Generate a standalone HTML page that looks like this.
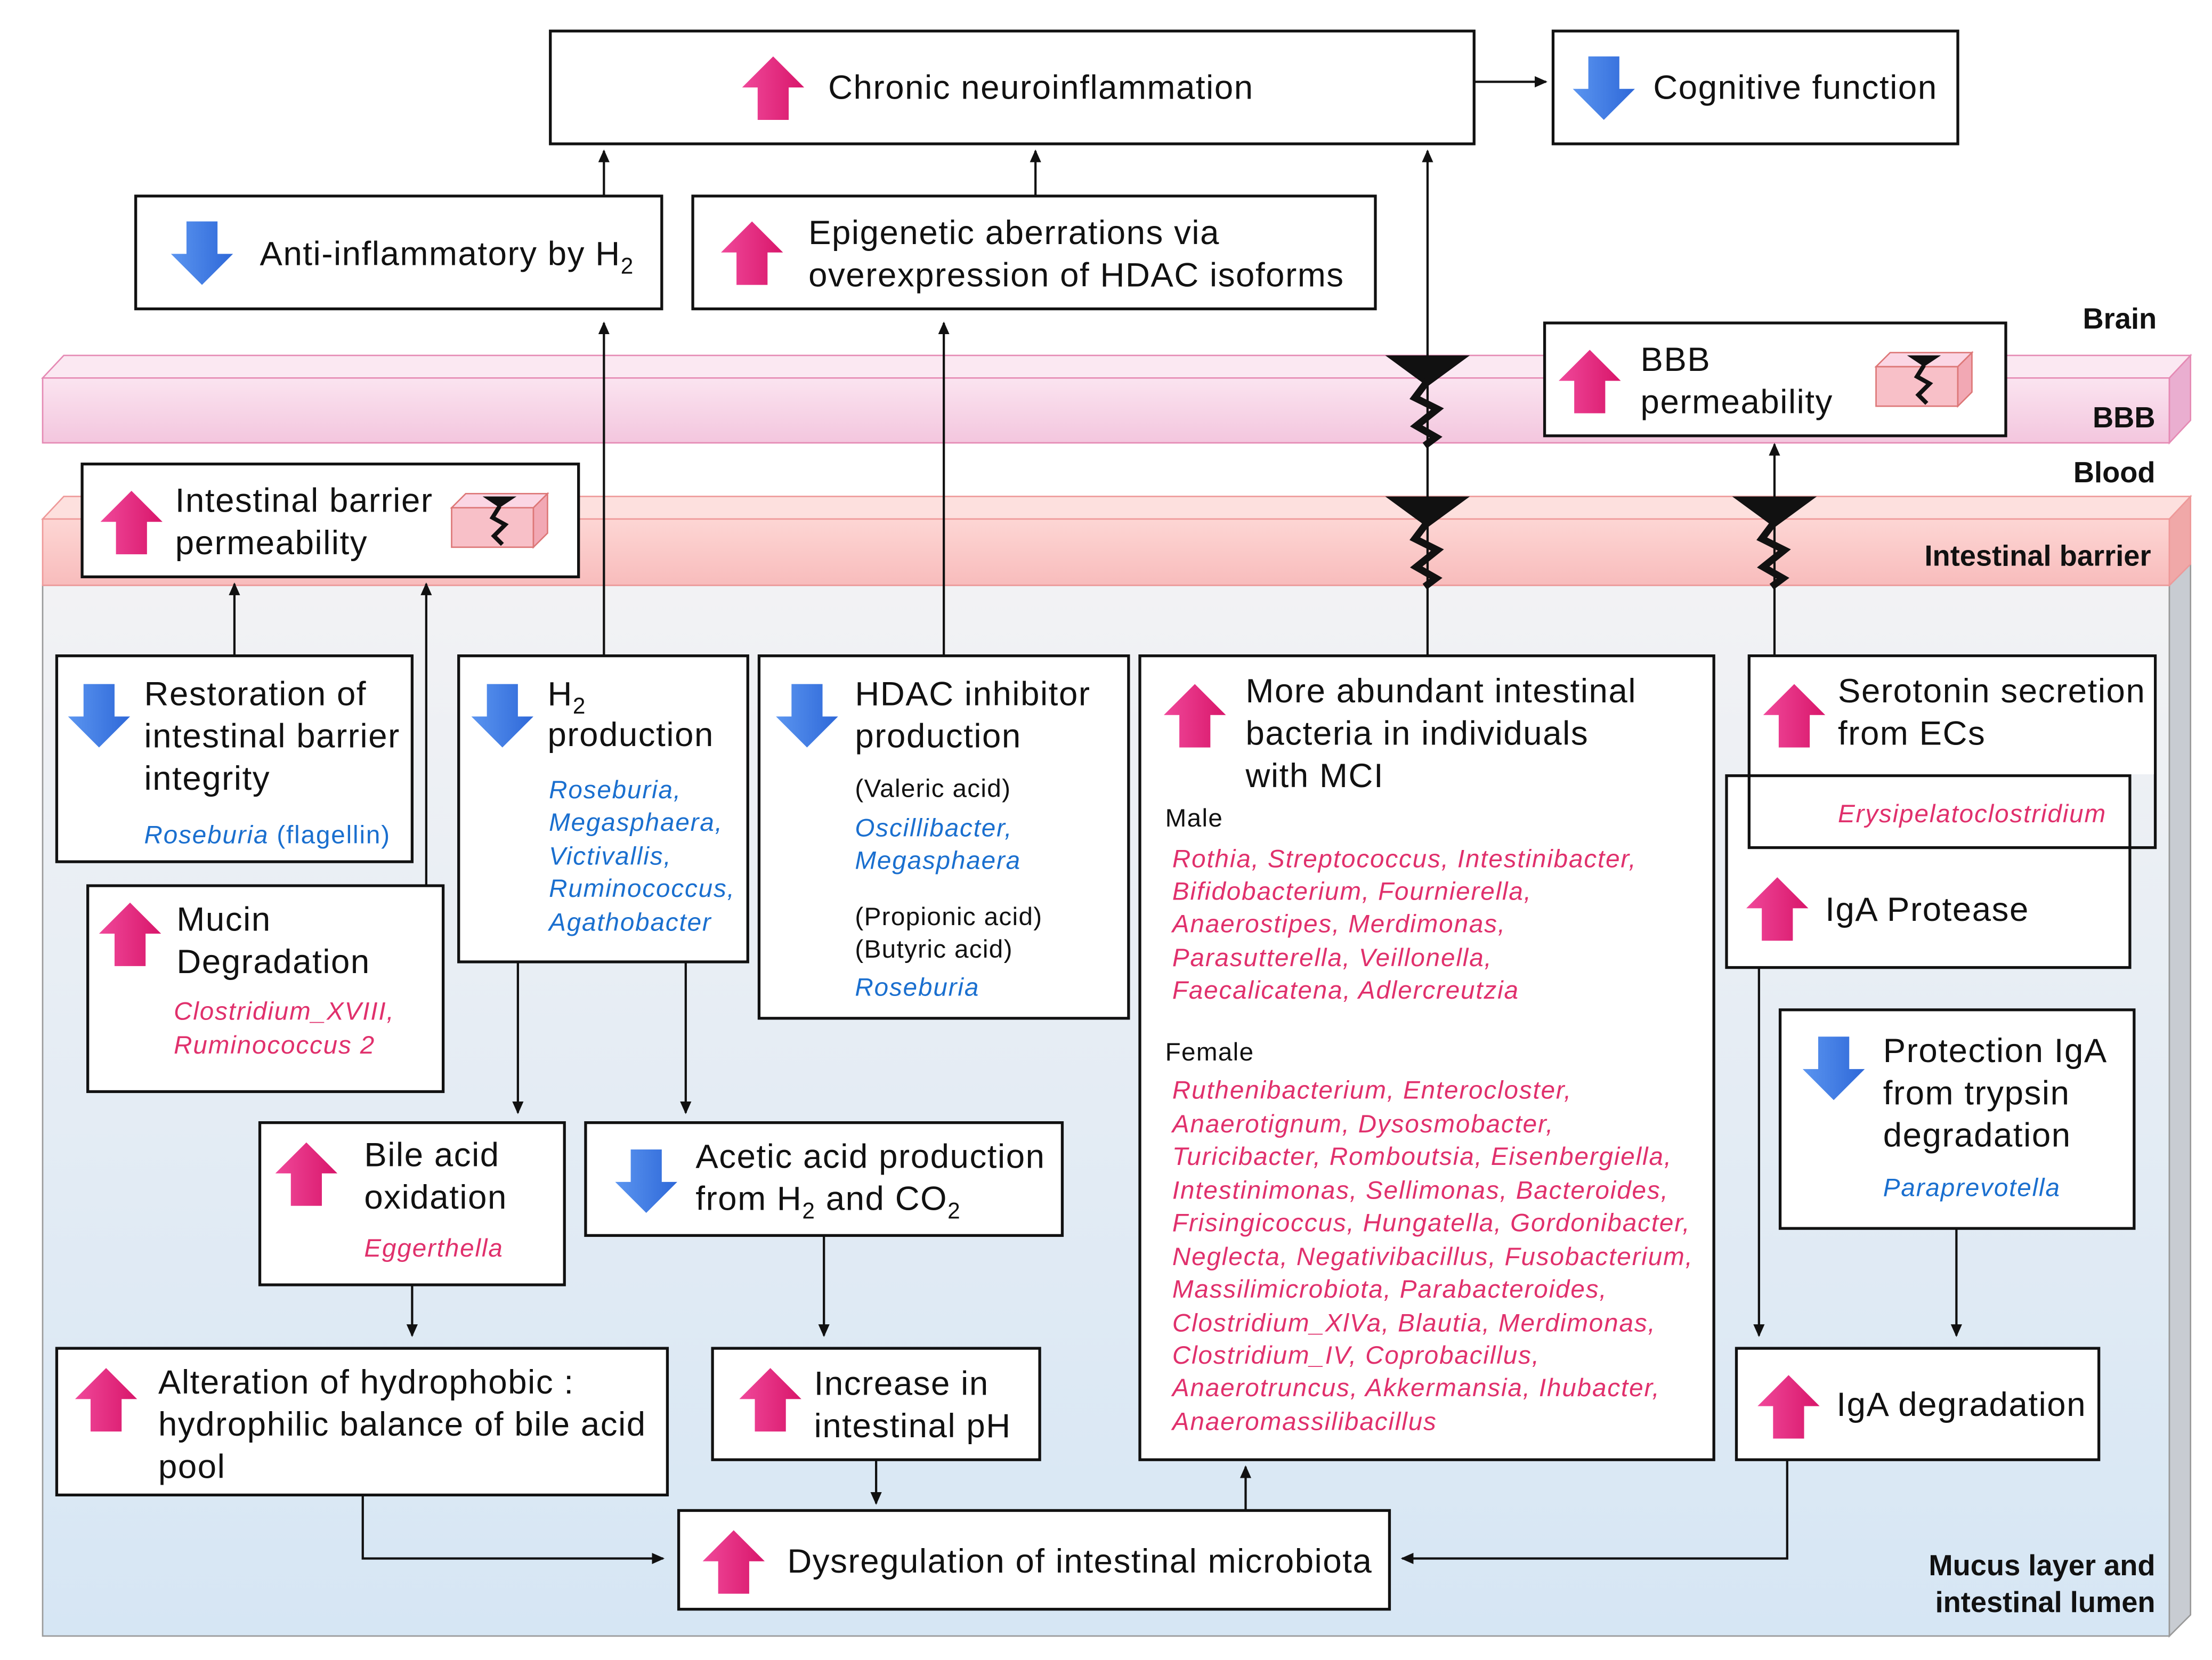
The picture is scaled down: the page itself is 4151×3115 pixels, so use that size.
<!DOCTYPE html>
<html><head><meta charset="utf-8"><style>
html,body{margin:0;padding:0;background:#fff;}
svg{display:block;}
text{font-family:"Liberation Sans",Arial,sans-serif;fill:#111;}
.t{font-size:24px;letter-spacing:0.6px;}
.s{font-size:18px;font-style:italic;fill:#e0306c;letter-spacing:0.7px;}
.b{font-size:18px;font-style:italic;fill:#1a6fcf;letter-spacing:0.7px;}
.n{font-size:18px;letter-spacing:0.5px;}
.lbl{font-size:20.5px;font-weight:bold;}
.box{fill:#fff;stroke:#111;stroke-width:2;}
.ln{stroke:#111;stroke-width:1.6;fill:none;}
</style></head><body>
<svg width="4151" height="3115" viewBox="0 0 1568 1177" xmlns="http://www.w3.org/2000/svg">
<defs>
<linearGradient id="mg" x1="0" y1="0" x2="0" y2="1"><stop offset="0" stop-color="#f2f2f4"/><stop offset="1" stop-color="#d6e6f4"/></linearGradient>
<linearGradient id="bg" x1="0" y1="0" x2="0" y2="1"><stop offset="0" stop-color="#fbe4f0"/><stop offset="1" stop-color="#f3c6de"/></linearGradient>
<linearGradient id="ig" x1="0" y1="0" x2="0" y2="1"><stop offset="0" stop-color="#fdd6d4"/><stop offset="1" stop-color="#f8bcbc"/></linearGradient>
<linearGradient id="pu" x1="0" y1="0" x2="1" y2="0"><stop offset="0" stop-color="#f0489a"/><stop offset="1" stop-color="#d8166a"/></linearGradient>
<linearGradient id="bd" x1="0" y1="0" x2="1" y2="0"><stop offset="0" stop-color="#5b95f0"/><stop offset="1" stop-color="#2e68d8"/></linearGradient>
<polygon id="up" fill="url(#pu)" points="0,0 22,22 11,22 11,45 -11,45 -11,22 -22,22"/>
<polygon id="dn" fill="url(#bd)" points="-11,0 11,0 11,23 22,23 0,45 -22,23 -11,23"/>
<marker id="ah" markerWidth="10" markerHeight="10" refX="8" refY="5" orient="auto" markerUnits="userSpaceOnUse"><path d="M0,1 L9,5 L0,9 z" fill="#111"/></marker>
<g id="crack"><polygon points="-30,0 30,0 0,22" fill="#111"/><path d="M0,18 L-9,30 L7,38 L-8,50 L6,58 L-2,64" stroke="#111" stroke-width="5" fill="none"/></g>
<g id="cube"><polygon points="0,10 10,0 68,0 58,10" fill="#fbd6e4" stroke="#d77" stroke-width="1"/><rect x="0" y="10" width="58" height="28" fill="#f8c0c8" stroke="#d77" stroke-width="1"/><polygon points="58,10 68,0 68,28 58,38" fill="#f2a8b4" stroke="#d77" stroke-width="1"/><polygon points="22,2 46,2 34,10" fill="#111"/><path d="M34,9 L29,17 L38,22 L30,30 L36,36" stroke="#111" stroke-width="3" fill="none"/></g>
</defs>

<rect x="30" y="415" width="1508" height="745" fill="url(#mg)" stroke="#999" stroke-width="1"/>
<polygon points="1538,415 1553,400 1553,1145 1538,1160" fill="#c8ccd2" stroke="#999" stroke-width="1"/>
<polygon points="30,368 45,352 1553,352 1538,368" fill="#fde0de" stroke="#e99" stroke-width="1"/>
<rect x="30" y="368" width="1508" height="47" fill="url(#ig)" stroke="#e99" stroke-width="1"/>
<polygon points="1538,368 1553,352 1553,400 1538,415" fill="#f0a8a8" stroke="#e99" stroke-width="1"/>
<polygon points="30,268 45,252 1553,252 1538,268" fill="#fbe8f2" stroke="#e58ab4" stroke-width="1"/>
<rect x="30" y="268" width="1508" height="46" fill="url(#bg)" stroke="#e58ab4" stroke-width="1"/>
<polygon points="1538,268 1553,252 1553,298 1538,314" fill="#eaaed0" stroke="#e58ab4" stroke-width="1"/>

<text class="lbl" x="1529" y="233" text-anchor="end">Brain</text>
<text class="lbl" x="1528" y="303" text-anchor="end">BBB</text>
<text class="lbl" x="1528" y="342" text-anchor="end">Blood</text>
<text class="lbl" x="1525" y="401" text-anchor="end">Intestinal barrier</text>
<text class="lbl" x="1528" y="1117" text-anchor="end">Mucus layer and</text>
<text class="lbl" x="1528" y="1143" text-anchor="end">intestinal lumen</text>

<line class="ln" x1="1045" y1="58" x2="1096" y2="58" marker-end="url(#ah)"/>
<line class="ln" x1="428" y1="139" x2="428" y2="107" marker-end="url(#ah)"/>
<line class="ln" x1="734" y1="139" x2="734" y2="107" marker-end="url(#ah)"/>
<line class="ln" x1="1012" y1="465" x2="1012" y2="107" marker-end="url(#ah)"/>
<line class="ln" x1="166" y1="465" x2="166" y2="414" marker-end="url(#ah)"/>
<line class="ln" x1="302" y1="628" x2="302" y2="414" marker-end="url(#ah)"/>
<line class="ln" x1="428" y1="465" x2="428" y2="229" marker-end="url(#ah)"/>
<line class="ln" x1="669" y1="465" x2="669" y2="229" marker-end="url(#ah)"/>
<line class="ln" x1="1258" y1="465" x2="1258" y2="315" marker-end="url(#ah)"/>
<line class="ln" x1="367" y1="682" x2="367" y2="789" marker-end="url(#ah)"/>
<line class="ln" x1="486" y1="682" x2="486" y2="789" marker-end="url(#ah)"/>
<line class="ln" x1="292" y1="911" x2="292" y2="947" marker-end="url(#ah)"/>
<line class="ln" x1="584" y1="876" x2="584" y2="947" marker-end="url(#ah)"/>
<line class="ln" x1="1247" y1="686" x2="1247" y2="947" marker-end="url(#ah)"/>
<line class="ln" x1="1387" y1="871" x2="1387" y2="947" marker-end="url(#ah)"/>
<line class="ln" x1="621" y1="1035" x2="621" y2="1066" marker-end="url(#ah)"/>
<line class="ln" x1="883" y1="1071" x2="883" y2="1040" marker-end="url(#ah)"/>
<polyline class="ln" points="257,1060 257,1105 470,1105" marker-end="url(#ah)"/>
<polyline class="ln" points="1267,1035 1267,1105 994,1105" marker-end="url(#ah)"/>

<use href="#crack" x="1012" y="252"/>
<use href="#crack" x="1012" y="352"/>
<use href="#crack" x="1258" y="352"/>

<rect class="box" x="390" y="22" width="655" height="80"/>
<use href="#up" x="548" y="40"/>
<text class="t" x="587" y="70">Chronic neuroinflammation</text>

<rect class="box" x="1101" y="22" width="287" height="80"/>
<use href="#dn" x="1137" y="40"/>
<text class="t" x="1172" y="70">Cognitive function</text>

<rect class="box" x="96" y="139" width="373" height="80"/>
<use href="#dn" x="143" y="157"/>
<text class="t" x="184" y="188">Anti-inflammatory by H<tspan font-size="16" dy="6">2</tspan></text>

<rect class="box" x="491" y="139" width="484" height="80"/>
<use href="#up" x="533" y="157"/>
<text class="t" x="573" y="173">Epigenetic aberrations via</text>
<text class="t" x="573" y="203">overexpression of HDAC isoforms</text>

<rect class="box" x="1095" y="229" width="327" height="80"/>
<use href="#up" x="1127" y="248"/>
<text class="t" x="1163" y="263">BBB</text>
<text class="t" x="1163" y="293">permeability</text>
<use href="#cube" x="1330" y="250"/>

<rect class="box" x="58" y="329" width="352" height="80"/>
<use href="#up" x="93" y="348"/>
<text class="t" x="124" y="363">Intestinal barrier</text>
<text class="t" x="124" y="393">permeability</text>
<use href="#cube" x="320" y="350"/>

<rect class="box" x="40" y="465" width="252" height="146"/>
<use href="#dn" x="70" y="485"/>
<text class="t" x="102" y="500">Restoration of</text>
<text class="t" x="102" y="530">intestinal barrier</text>
<text class="t" x="102" y="560">integrity</text>
<text class="b" x="102" y="598">Roseburia <tspan font-style="normal">(flagellin)</tspan></text>

<rect class="box" x="325" y="465" width="205" height="217"/>
<use href="#dn" x="356" y="485"/>
<text class="t" x="388" y="500">H<tspan font-size="16" dy="6">2</tspan></text>
<text class="t" x="388" y="529">production</text>
<text class="b" x="389" y="566">Roseburia,</text>
<text class="b" x="389" y="589">Megasphaera,</text>
<text class="b" x="389" y="613">Victivallis,</text>
<text class="b" x="389" y="636">Ruminococcus,</text>
<text class="b" x="389" y="660">Agathobacter</text>

<rect class="box" x="538" y="465" width="262" height="257"/>
<use href="#dn" x="572" y="485"/>
<text class="t" x="606" y="500">HDAC inhibitor</text>
<text class="t" x="606" y="530">production</text>
<text class="n" x="606" y="565">(Valeric acid)</text>
<text class="b" x="606" y="593">Oscillibacter,</text>
<text class="b" x="606" y="616">Megasphaera</text>
<text class="n" x="606" y="656">(Propionic acid)</text>
<text class="n" x="606" y="679">(Butyric acid)</text>
<text class="b" x="606" y="706">Roseburia</text>

<rect class="box" x="808" y="465" width="407" height="570"/>
<use href="#up" x="847" y="485"/>
<text class="t" x="883" y="498">More abundant intestinal</text>
<text class="t" x="883" y="528">bacteria in individuals</text>
<text class="t" x="883" y="558">with MCI</text>
<text class="n" x="826" y="586" font-size="19">Male</text>
<text class="s" x="831" y="615">Rothia, Streptococcus, Intestinibacter,</text>
<text class="s" x="831" y="638">Bifidobacterium, Fournierella,</text>
<text class="s" x="831" y="661">Anaerostipes,  Merdimonas,</text>
<text class="s" x="831" y="685">Parasutterella, Veillonella,</text>
<text class="s" x="831" y="708">Faecalicatena,  Adlercreutzia</text>
<text class="n" x="826" y="752" font-size="19">Female</text>
<text class="s" x="831" y="779">Ruthenibacterium, Enterocloster,</text>
<text class="s" x="831" y="803">Anaerotignum, Dysosmobacter,</text>
<text class="s" x="831" y="826">Turicibacter, Romboutsia, Eisenbergiella,</text>
<text class="s" x="831" y="850">Intestinimonas, Sellimonas, Bacteroides,</text>
<text class="s" x="831" y="873">Frisingicoccus, Hungatella, Gordonibacter,</text>
<text class="s" x="831" y="897">Neglecta, Negativibacillus, Fusobacterium,</text>
<text class="s" x="831" y="920">Massilimicrobiota, Parabacteroides,</text>
<text class="s" x="831" y="944">Clostridium_XlVa, Blautia, Merdimonas,</text>
<text class="s" x="831" y="967">Clostridium_IV, Coprobacillus,</text>
<text class="s" x="831" y="990">Anaerotruncus, Akkermansia, Ihubacter,</text>
<text class="s" x="831" y="1014">Anaeromassilibacillus</text>

<rect class="box" x="1224" y="550" width="286" height="136"/>
<rect class="box" x="1240" y="465" width="288" height="136" style="fill:none"/>
<rect x="1241" y="466" width="286" height="83" fill="#fff"/>
<use href="#up" x="1272" y="485"/>
<text class="t" x="1303" y="498">Serotonin secretion</text>
<text class="t" x="1303" y="528">from ECs</text>
<text class="s" x="1303" y="583">Erysipelatoclostridium</text>
<use href="#up" x="1260" y="622"/>
<text class="t" x="1294" y="653">IgA Protease</text>

<rect class="box" x="62" y="628" width="252" height="146"/>
<use href="#up" x="92" y="640"/>
<text class="t" x="125" y="660">Mucin</text>
<text class="t" x="125" y="690">Degradation</text>
<text class="s" x="123" y="723">Clostridium_XVIII,</text>
<text class="s" x="123" y="747">Ruminococcus 2</text>

<rect class="box" x="1262" y="716" width="251" height="155"/>
<use href="#dn" x="1300" y="735"/>
<text class="t" x="1335" y="753">Protection IgA</text>
<text class="t" x="1335" y="783">from trypsin</text>
<text class="t" x="1335" y="813">degradation</text>
<text class="b" x="1335" y="848">Paraprevotella</text>

<rect class="box" x="184" y="796" width="216" height="115"/>
<use href="#up" x="217" y="810"/>
<text class="t" x="258" y="827">Bile acid</text>
<text class="t" x="258" y="857">oxidation</text>
<text class="s" x="258" y="891">Eggerthella</text>

<rect class="box" x="415" y="796" width="338" height="80"/>
<use href="#dn" x="458" y="815"/>
<text class="t" x="493" y="828">Acetic acid production</text>
<text class="t" x="493" y="858">from H<tspan font-size="16" dy="6">2</tspan><tspan dy="-6"> and CO</tspan><tspan font-size="16" dy="6">2</tspan></text>

<rect class="box" x="40" y="956" width="433" height="104"/>
<use href="#up" x="75" y="970"/>
<text class="t" x="112" y="988">Alteration of hydrophobic :</text>
<text class="t" x="112" y="1018">hydrophilic balance of bile acid</text>
<text class="t" x="112" y="1048">pool</text>

<rect class="box" x="505" y="956" width="232" height="79"/>
<use href="#up" x="546" y="970"/>
<text class="t" x="577" y="989">Increase in</text>
<text class="t" x="577" y="1019">intestinal pH</text>

<rect class="box" x="1231" y="956" width="257" height="79"/>
<use href="#up" x="1268" y="975"/>
<text class="t" x="1302" y="1004">IgA degradation</text>

<rect class="box" x="481" y="1071" width="504" height="70"/>
<use href="#up" x="520" y="1085"/>
<text class="t" x="558" y="1115">Dysregulation of intestinal microbiota</text>
</svg>
</body></html>
